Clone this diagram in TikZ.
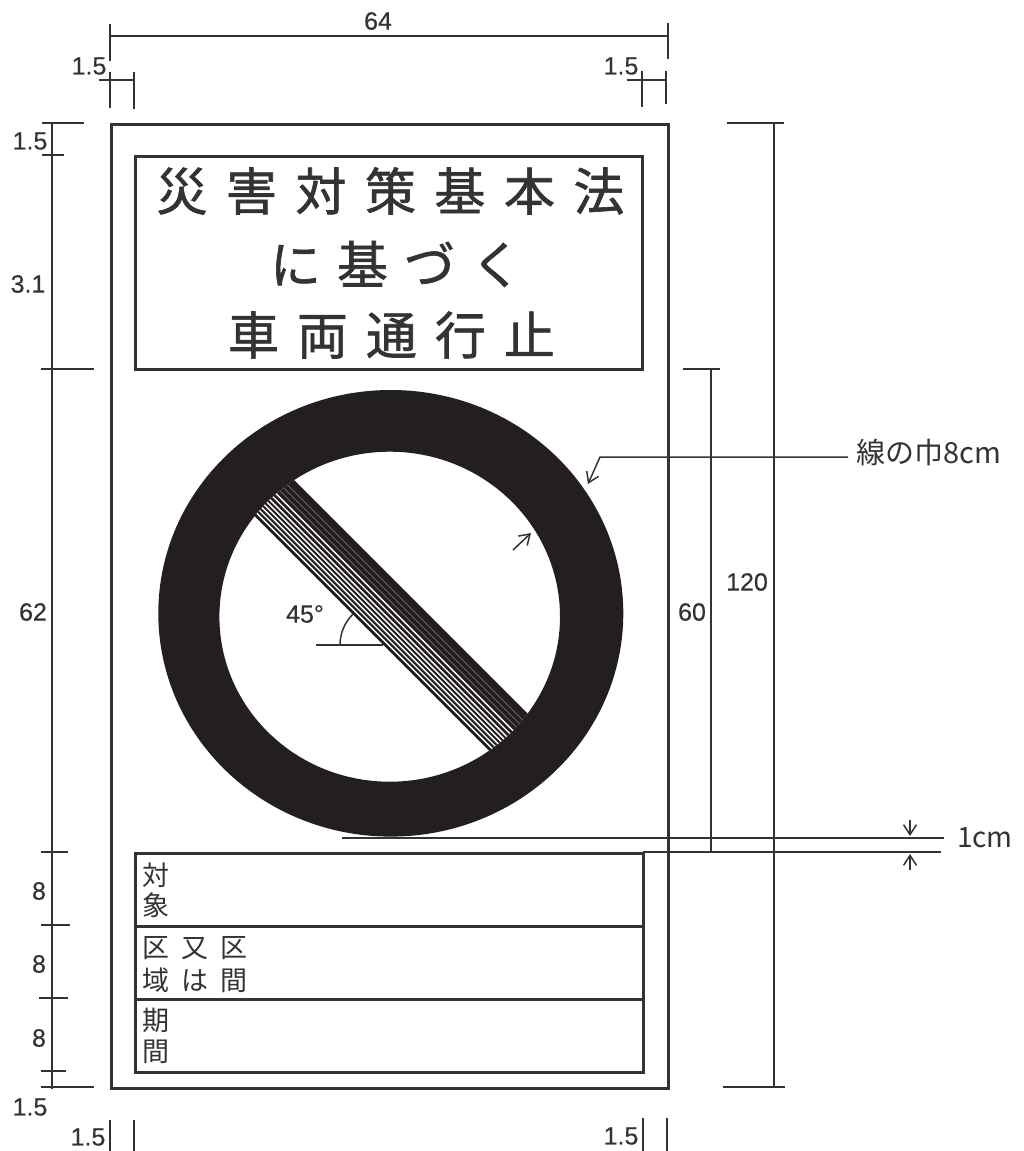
\documentclass[tikz,border=0pt]{standalone}
\usepackage{fontspec}
\newfontfamily\jpfont{Noto Sans CJK JP}
\newfontfamily\jpboldfont[FakeBold=1.2]{Noto Sans CJK JP}
\newfontfamily\numfont[FakeBold=0.4]{Liberation Sans}
\usetikzlibrary{arrows.meta}
\definecolor{inkc}{HTML}{333333}
\definecolor{signc}{HTML}{231F20}
\newcommand\pk[2]{\makebox[#1][c]{#2}}
\begin{document}
\begin{tikzpicture}[x=1pt,y=-1pt,
  frame/.style={draw=inkc, line width=3pt},
  dimline/.style={draw=inkc, line width=2.6pt},
  tickline/.style={draw=inkc, line width=1.8pt},
  thinline/.style={draw=inkc, line width=1.5pt},
  arr/.style={draw=inkc, line width=1.5pt, -{Straight Barb[length=10pt,width=13pt]}},
  numlbl/.style={inner sep=0pt, text=inkc, font=\numfont\fontsize{25}{25}\selectfont},
  titlelbl/.style={inner sep=0pt, text=inkc, font=\jpboldfont\fontsize{51}{51}\selectfont},
  boxlbl/.style={inner sep=0pt, text=inkc, font=\jpfont\fontsize{27}{27}\selectfont},
  notelbl/.style={inner sep=0pt, text=inkc, font=\jpfont\fontsize{29}{29}\selectfont},
]
\useasboundingbox (0,0) rectangle (1023,1151);

% ---- sign frame and boxes
\draw[frame] (111,124) rectangle (668,1088);
\draw[frame] (135,156) rectangle (642,369);
\draw[frame] (135,853) rectangle (643,1072);
\draw[frame] (135,926) -- (643,926);
\draw[frame] (135,999) -- (643,999);

% ---- title text
\node[titlelbl] (t1) at (390.5,191) {\pk{69.5pt}{災}\pk{69.5pt}{害}\pk{69.5pt}{対}\pk{69.5pt}{策}\pk{69.5pt}{基}\pk{69.5pt}{本}\pk{69.5pt}{法}};
\node[titlelbl] (t2) at (396,264) {\pk{67pt}{に}\pk{67pt}{基}\pk{67pt}{づ}\pk{67pt}{く}};
\node[titlelbl] (t3) at (391.5,335) {\pk{69pt}{車}\pk{69pt}{両}\pk{69pt}{通}\pk{69pt}{行}\pk{69pt}{止}};

% ---- lower box texts
\node[boxlbl] (b1a) at (156,875) {対};
\node[boxlbl] (b1b) at (156,905) {象};
\node[boxlbl] (b2a) at (195,948) {\pk{39pt}{区}\pk{39pt}{又}\pk{39pt}{区}};
\node[boxlbl] (b2b) at (195,980) {\pk{39pt}{域}\pk{39pt}{は}\pk{39pt}{間}};
\node[boxlbl] (b3a) at (156,1020) {期};
\node[boxlbl] (b3b) at (156,1052) {間};

% ---- ring
\fill[signc, even odd rule] (390.8,613.3) ellipse [x radius=232.5pt, y radius=223.3pt]
  (389.7,616.7) ellipse [x radius=170.3pt, y radius=165pt];
% ---- diagonal band
\begin{scope}
  \clip (389.7,616.7) ellipse [x radius=170.3pt, y radius=165pt];
  \fill[signc] (100,285.9) -- (700,885.9) -- (700,961.6) -- (100,361.6) -- cycle;
  \foreach \f in {0.07,0.14,0.21,0.28,0.35,0.42,0.50,0.58}
    \draw[white, line width=1.4pt] (100,{361.6-\f*75.7}) -- (700,{961.6-\f*75.7});
  \foreach \f in {0.67,0.76,0.85}
    \draw[black!55, line width=0.7pt] (100,{361.6-\f*75.7}) -- (700,{961.6-\f*75.7});
\end{scope}

% ---- 45 degree mark
\coordinate (ang) at (383.4,645);
\draw[thinline] (316,645) -- (ang);
\draw[thinline] (340,645) arc[start angle=180, end angle=225, radius=43.4];
\node[numlbl] (a45) at (305,614) {45°};

% ---- ring width leader
\coordinate (ldA) at (848,457);
\coordinate (ldB) at (600,457);
\coordinate (ringO) at (588,484);
\draw[arr] (ldA) -- (ldB) -- (ringO);
\node[notelbl, anchor=west] (lw) at (856,452) {線の巾8cm};
\coordinate (inA) at (513,550);
\coordinate (inB) at (531,533);
\draw[arr] (inA) -- (inB);

% ---- top dimensions
\draw[dimline] (110,36) -- (668,36);
\draw[tickline] (110,24) -- (110,61);
\draw[tickline] (668,23) -- (668,59);
\node[numlbl] (d64) at (378,21) {64};
\draw[tickline] (99,80) -- (134,80);
\draw[tickline] (110,72) -- (110,108);
\draw[tickline] (134,72) -- (134,109);
\node[numlbl] (dtl) at (89,66) {1.5};
\draw[tickline] (627,80) -- (666,80);
\draw[tickline] (642,71) -- (642,107);
\draw[tickline] (666,71) -- (666,104);
\node[numlbl] (dtr) at (621,66) {1.5};

% ---- left dimensions
\draw[dimline] (52,123) -- (52,1089);
\draw[tickline] (42,123) -- (84,123);
\draw[tickline] (42,155) -- (64,155);
\draw[tickline] (41,369) -- (94,369);
\draw[tickline] (41,852) -- (68,852);
\draw[tickline] (41,925) -- (70,925);
\draw[tickline] (39,998) -- (68,998);
\draw[tickline] (41,1071) -- (66,1071);
\draw[tickline] (41,1087) -- (94,1087);
\node[numlbl] (l15a) at (30,141) {1.5};
\node[numlbl] (l31) at (28,284) {3.1};
\node[numlbl] (l62) at (33,612) {62};
\node[numlbl] (l8a) at (39,891) {8};
\node[numlbl] (l8b) at (39,964) {8};
\node[numlbl] (l8c) at (39,1038) {8};
\node[numlbl] (l15b) at (30,1107) {1.5};

% ---- bottom small dimensions
\draw[tickline] (110,1120) -- (110,1151);
\draw[tickline] (134,1120) -- (134,1151);
\node[numlbl] (bl15) at (88,1137) {1.5};
\draw[tickline] (643,1118) -- (643,1151);
\draw[tickline] (667,1118) -- (667,1151);
\node[numlbl] (br15) at (621,1136) {1.5};

% ---- right dimensions
\draw[dimline] (774,123) -- (774,1087);
\draw[tickline] (727,123) -- (784,123);
\draw[tickline] (723,1087) -- (785,1087);
\node[numlbl] (r120) at (747,582) {120};
\draw[dimline] (711,369) -- (711,852);
\draw[tickline] (683,369) -- (720,369);
\draw[tickline] (682,852) -- (722,852);
\node[numlbl] (r60) at (692,612) {60};

% ---- 1cm gap
\draw[tickline] (342,838) -- (944,838);
\draw[tickline] (643,852) -- (941,852);
\coordinate (gA) at (910,820);
\coordinate (gB) at (910,836);
\coordinate (gC) at (910,870);
\coordinate (gD) at (910,854);
\draw[arr] (gA) -- (gB);
\draw[arr] (gC) -- (gD);
\node[notelbl, font=\jpfont\fontsize{28}{28}\selectfont] (g1) at (985,838) {1cm};
\end{tikzpicture}
\end{document}
